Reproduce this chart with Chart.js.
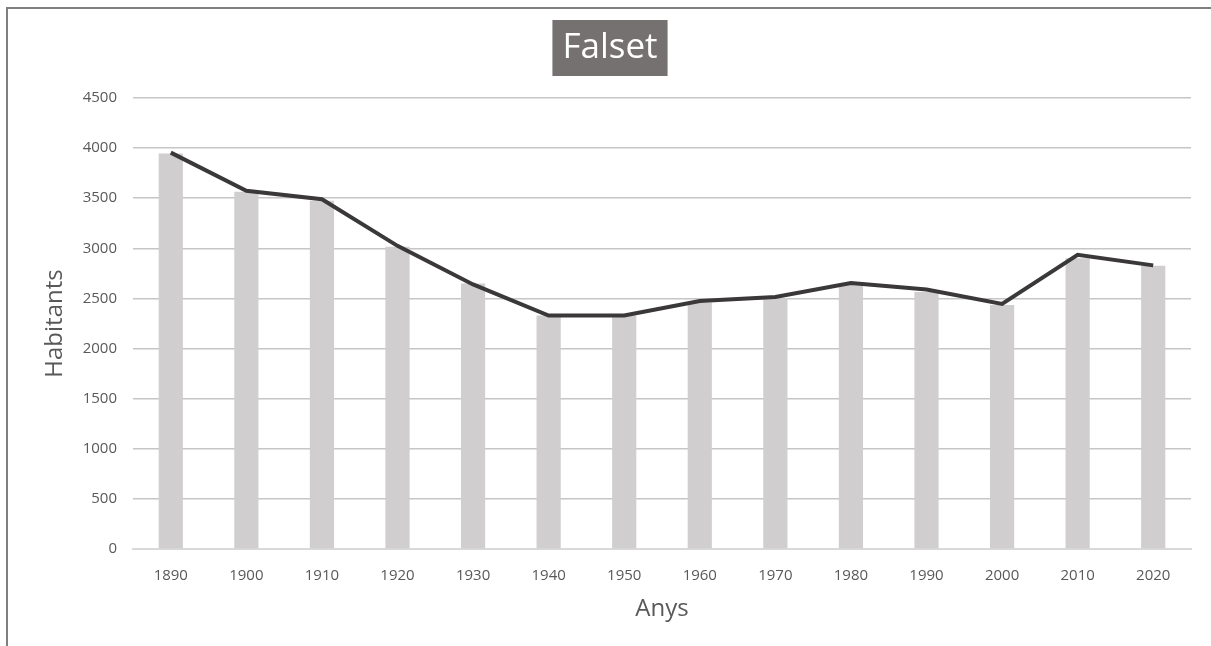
<!DOCTYPE html>
<html>
<head>
<meta charset="utf-8">
<script src="https://cdn.jsdelivr.net/npm/chart.js@4/dist/chart.umd.min.js"></script>
<style>
  html, body { margin: 0; padding: 0; background: #ffffff; overflow: hidden; }
  #frame { position: absolute; left: 6px; top: 7px; width: 1220px; height: 660px;
           border-top: 2px solid #7f7f7f; border-left: 2px solid #7f7f7f; box-sizing: border-box; }
  #wrap { position: absolute; left: 0; top: 0; width: 1211px; height: 646px; }
</style>
</head>
<body>
<div id="frame"></div>
<div id="wrap"><canvas id="c" width="1211" height="646"></canvas></div>
<script>
const categories = ['1890','1900','1910','1920','1930','1940','1950','1960','1970','1980','1990','2000','2010','2020'];
const barValues  = [3945, 3565, 3475, 3015, 2650, 2330, 2330, 2460, 2505, 2640, 2565, 2435, 2900, 2825];
const lineValues = [3955, 3575, 3490, 3025, 2640, 2330, 2330, 2475, 2515, 2655, 2590, 2445, 2935, 2830];
const yTicks = [0, 500, 1000, 1500, 2000, 2500, 3000, 3500, 4000, 4500];
const titleText = 'Falset';
const xTitle = 'Anys';
const yTitle = 'Habitants';

const FONT = "'Open Sans', 'DejaVu Sans', sans-serif";

const titleBg = {
  id: 'titleBg',
  beforeDraw(chart) {
    const tb = chart.titleBlock;
    if (!tb) return;
    const ctx = chart.ctx;
    ctx.save();
    ctx.font = "35px " + FONT;
    const w = ctx.measureText(titleText).width;
    const cx = (tb.left + tb.right) / 2;
    const cy = tb.top + 27 + 21;
    ctx.fillStyle = '#767171';
    ctx.fillRect(cx - w / 2 - 10, cy - 28, w + 20, 56);
    ctx.restore();
  }
};

new Chart(document.getElementById('c'), {
  data: {
    labels: categories,
    datasets: [
      {
        type: 'line',
        label: 'line',
        data: lineValues,
        borderColor: '#3a3838',
        borderWidth: 4,
        pointRadius: 0,
        tension: 0,
        fill: false,
        order: 0
      },
      {
        type: 'bar',
        label: 'bar',
        data: barValues,
        backgroundColor: '#d0cece',
        barPercentage: 0.32,
        categoryPercentage: 1.0,
        order: 1
      }
    ]
  },
  plugins: [titleBg],
  options: {
    responsive: false,
    animation: false,
    devicePixelRatio: 1,
    layout: { padding: { left: 29, right: 20, top: 0, bottom: 0 } },
    plugins: {
      legend: { display: false },
      tooltip: { enabled: false },
      title: {
        display: true,
        text: titleText,
        color: '#ffffff',
        font: { family: FONT, size: 35, weight: 'normal', lineHeight: 1.2 },
        padding: { top: 27, bottom: 29 }
      }
    },
    scales: {
      x: {
        grid: { display: false },
        border: { display: true, color: '#d9d9d9', width: 2 },
        ticks: { color: '#595959', font: { family: FONT, size: 15 }, padding: 10, maxRotation: 0, autoSkip: false },
        title: { display: true, text: xTitle, color: '#595959',
                 font: { family: FONT, size: 24, lineHeight: 1.2 }, padding: { top: 0, bottom: 22.6 } },
        afterFit(scale) { scale.height = 97; }
      },
      y: {
        min: 0, max: 4500,
        afterBuildTicks(scale) { scale.ticks = yTicks.map(v => ({ value: v })); },
        grid: { color: '#c6c6c6', lineWidth: 1.5, drawTicks: false },
        border: { display: false },
        ticks: { color: '#595959', font: { family: FONT, size: 15 }, padding: 16,
                 callback: (v) => String(v) },
        title: { display: true, text: yTitle, color: '#595959',
                 font: { family: FONT, size: 24, lineHeight: 1.2 }, padding: { top: 11.6, bottom: 0 } },
        afterFit(scale) { scale.width = 104; }
      }
    }
  }
});
</script>
</body>
</html>
